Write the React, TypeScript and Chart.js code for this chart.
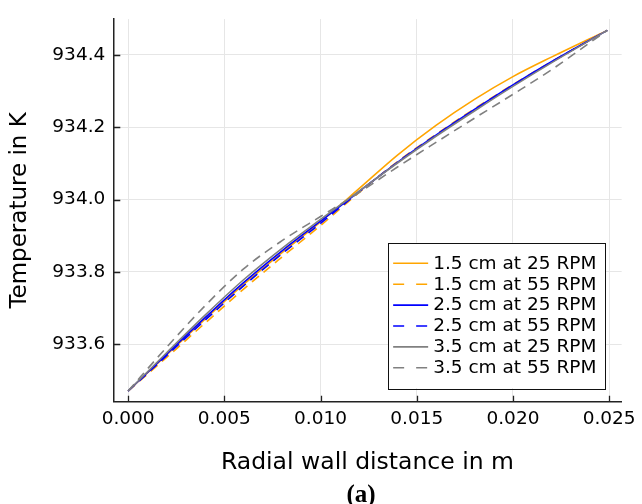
import React, { useEffect, useRef } from 'react';
import { Chart, registerables } from 'chart.js';

Chart.register(...registerables);

// ---- data ----
const X_M = [0, 0.002, 0.004, 0.006, 0.008, 0.01, 0.012, 0.014, 0.016, 0.018, 0.02, 0.022, 0.0249];

const T_15_25 = [933.470, 933.570, 933.669, 933.765, 933.853, 933.938, 934.030, 934.123, 934.205, 934.277, 934.340, 934.394, 934.468];
const T_15_55 = [933.470, 933.563, 933.658, 933.752, 933.841, 933.928, 934.019, 934.105, 934.180, 934.251, 934.318, 934.381, 934.468];
const T_25_25 = [933.470, 933.572, 933.673, 933.770, 933.858, 933.940, 934.022, 934.103, 934.178, 934.249, 934.317, 934.381, 934.468];
const T_25_55 = [933.470, 933.568, 933.666, 933.761, 933.850, 933.934, 934.021, 934.103, 934.178, 934.248, 934.315, 934.380, 934.468];
const T_35_25 = [933.470, 933.576, 933.680, 933.778, 933.865, 933.945, 934.023, 934.101, 934.175, 934.245, 934.313, 934.378, 934.468];
const T_35_55 = [933.470, 933.591, 933.706, 933.808, 933.886, 933.953, 934.019, 934.090, 934.158, 934.225, 934.291, 934.359, 934.468];

const SERIES_LABELS = [
  '1.5 cm at 25 RPM',
  '1.5 cm at 55 RPM',
  '2.5 cm at 25 RPM',
  '2.5 cm at 55 RPM',
  '3.5 cm at 25 RPM',
  '3.5 cm at 55 RPM',
];
const SERIES_VALUES = [T_15_25, T_15_55, T_25_25, T_25_55, T_35_25, T_35_55];
const SERIES_COLORS = ['#FFA500', '#FFA500', '#0000FF', '#0000FF', '#808080', '#808080'];
const SERIES_DASHED = [false, true, false, true, false, true];

const X_TICKS = [0, 0.005, 0.01, 0.015, 0.02, 0.025];
const Y_TICKS = [933.6, 933.8, 934.0, 934.2, 934.4];

const X_MIN = -0.00077;
const X_MAX = 0.02565;
const Y_MIN = 933.4405;
const Y_MAX = 934.4992;

const X_TITLE = 'Radial wall distance in m';
const Y_TITLE = 'Temperature in K';
const CAPTION = '(a)';

const FONT = '"DejaVu Sans", sans-serif';
const PLOT_DASH = [9, 6];
const LEGEND_DASH = [11, 12];

const inwardTicks = {
  id: 'inwardTicks',
  afterDatasetsDraw(chart: any) {
    const { ctx, chartArea, scales } = chart;
    ctx.save();
    ctx.strokeStyle = '#222';
    ctx.lineWidth = 1.3;
    ctx.setLineDash([]);
    ctx.beginPath();
    X_TICKS.forEach((v) => {
      const px = Math.round(scales.x.getPixelForValue(v)) + 0.5;
      ctx.moveTo(px, chartArea.bottom);
      ctx.lineTo(px, chartArea.bottom - 6);
    });
    Y_TICKS.forEach((v) => {
      const py = Math.round(scales.y.getPixelForValue(v)) + 0.5;
      ctx.moveTo(chartArea.left, py);
      ctx.lineTo(chartArea.left + 7, py);
    });
    ctx.stroke();
    ctx.restore();
  },
};

const boxLegend = {
  id: 'boxLegend',
  afterDraw(chart: any) {
    const { ctx, chartArea } = chart;
    const right = chartArea.right - 16.5;
    const bottom = chartArea.bottom - 13.5;
    const w = 217;
    const h = 145.5;
    const left = right - w;
    const top = bottom - h;
    ctx.save();
    ctx.fillStyle = '#ffffff';
    ctx.fillRect(left, top, w, h);
    ctx.strokeStyle = '#111';
    ctx.lineWidth = 1;
    ctx.strokeRect(Math.round(left) + 0.5, Math.round(top) + 0.5, Math.round(w), Math.round(h));
    ctx.font = `18.5px ${FONT}`;
    ctx.textBaseline = 'middle';
    ctx.textAlign = 'left';
    chart.data.datasets.forEach((ds: any, i: number) => {
      const y = top + 20.6 + i * 20.9;
      ctx.strokeStyle = ds.borderColor;
      ctx.lineWidth = 1.6;
      ctx.setLineDash(ds.borderDash && ds.borderDash.length ? LEGEND_DASH : []);
      ctx.beginPath();
      ctx.moveTo(left + 5, y);
      ctx.lineTo(left + 40, y);
      ctx.stroke();
      ctx.setLineDash([]);
      ctx.fillStyle = '#000';
      ctx.fillText(ds.label, left + 45, y + 0.5);
    });
    ctx.restore();
  },
};

export default function App() {
  const canvasRef = useRef<HTMLCanvasElement | null>(null);

  useEffect(() => {
    if (!canvasRef.current) return;
    const datasets = SERIES_LABELS.map((label, i) => ({
      label,
      data: X_M.map((x, j) => ({ x, y: SERIES_VALUES[i][j] })),
      borderColor: SERIES_COLORS[i],
      backgroundColor: SERIES_COLORS[i],
      borderWidth: 1.6,
      borderDash: SERIES_DASHED[i] ? PLOT_DASH : [],
      pointRadius: 0,
      fill: false,
      cubicInterpolationMode: 'monotone' as const,
      order: SERIES_LABELS.length - i,
    }));

    const chart = new Chart(canvasRef.current, {
      type: 'line',
      data: { datasets },
      plugins: [inwardTicks, boxLegend],
      options: {
        animation: false,
        responsive: true,
        maintainAspectRatio: false,
        layout: { padding: { top: 10, right: 15.3, bottom: 0, left: 0 } },
        plugins: {
          legend: { display: false },
          tooltip: { enabled: false },
          title: { display: false },
        },
        scales: {
          x: {
            type: 'linear',
            min: X_MIN,
            max: X_MAX,
            afterBuildTicks: (s: any) => {
              s.ticks = X_TICKS.map((v) => ({ value: v }));
            },
            afterFit: (s: any) => {
              s.height = 102.3;
            },
            grid: { color: '#e6e6e6', lineWidth: 1, drawTicks: false },
            border: { display: true, color: '#222', width: 1.5 },
            ticks: {
              autoSkip: false,
              maxRotation: 0,
              padding: 6,
              color: '#000',
              font: { family: FONT, size: 18.5 },
              callback: (v: any) => Number(v).toFixed(3),
            },
            title: {
              display: true,
              text: X_TITLE,
              color: '#000',
              font: { family: FONT, size: 23.5 },
              padding: { top: 0, bottom: 27.5 },
            },
          },
          y: {
            type: 'linear',
            min: Y_MIN,
            max: Y_MAX,
            afterBuildTicks: (s: any) => {
              s.ticks = Y_TICKS.map((v) => ({ value: v }));
            },
            afterFit: (s: any) => {
              s.width = 113.3;
            },
            grid: { color: '#e6e6e6', lineWidth: 1, drawTicks: false },
            border: { display: true, color: '#222', width: 1.5 },
            ticks: {
              autoSkip: false,
              padding: 8,
              color: '#000',
              font: { family: FONT, size: 18.5 },
              callback: (v: any) => Number(v).toFixed(1),
            },
            title: {
              display: true,
              text: Y_TITLE,
              color: '#000',
              font: { family: FONT, size: 23 },
              padding: { top: 6, bottom: 0 },
            },
          },
        },
      },
    });
    return () => chart.destroy();
  }, []);

  return (
    <div style={{ position: 'fixed', left: 0, top: 0, width: 642, height: 504, background: '#fff' }}>
      <canvas ref={canvasRef} />
      <div
        style={{
          position: 'absolute',
          left: 361,
          top: 493,
          transform: 'translate(-50%, -50%)',
          font: 'bold 25px "Liberation Serif", "Times New Roman", serif',
          lineHeight: 1,
          color: '#000',
          whiteSpace: 'nowrap',
        }}
      >
        {CAPTION}
      </div>
    </div>
  );
}
